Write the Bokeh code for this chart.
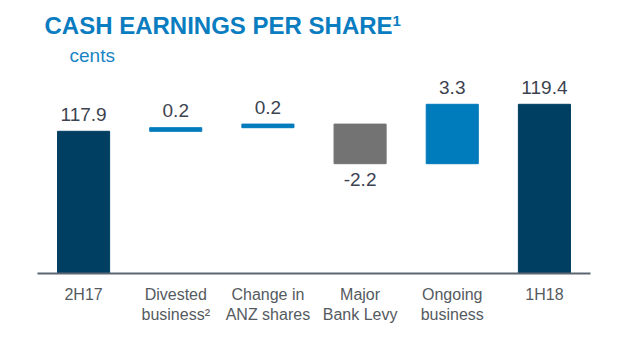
from bokeh.plotting import figure
from bokeh.models import ColumnDataSource, FactorRange, Range1d, Label
from bokeh.embed import file_html
from bokeh.resources import INLINE
from bokeh.core.properties import value

# ---- data ----
categories = ["2H17", "Divested\nbusiness\u00b2", "Change in\nANZ shares",
              "Major\nBank Levy", "Ongoing\nbusiness", "1H18"]
values = [117.9, 0.2, 0.2, -2.2, 3.3, 119.4]
kinds = ["total", "delta", "delta", "delta", "delta", "total"]
axis_floor = 110.0

# ---- waterfall geometry from data ----
bottoms, tops, colors = [], [], []
running = 0.0
for v, k in zip(values, kinds):
    if k == "total":
        b, t = axis_floor, v
        running = v
        c = "#003f62"
    else:
        b, t = running, running + v
        running = t
        c = "#737373" if v < 0 else "#007bbb"
    bottoms.append(min(b, t))
    tops.append(max(b, t))
    colors.append(c)

labels = [f"{v:.1f}" for v in values]
lab_y = [tops[i] if values[i] >= 0 else bottoms[i] for i in range(len(values))]
lab_off = [-17 if values[i] >= 0 else 16 for i in range(len(values))]

src = ColumnDataSource(dict(x=categories, bottom=bottoms, top=tops, color=colors,
                            label=labels, ly=lab_y, loff=lab_off))

FONT = "Liberation Sans"

p = figure(width=622, height=354, x_range=FactorRange(*categories),
           y_range=Range1d(axis_floor, axis_floor + 273 / 18.0),
           output_backend="svg", toolbar_location=None, y_axis_location=None,
           min_border_left=37, min_border_right=32, min_border_top=0,
           min_border_bottom=81)
p.x_range.range_padding = 0
p.outline_line_color = None
p.xgrid.visible = False
p.ygrid.visible = False
p.background_fill_color = "white"
p.border_fill_color = "white"

p.vbar(x="x", bottom="bottom", top="top", width=0.565, color="color", source=src)
p.text(x="x", y="ly", text="label", y_offset="loff", source=src,
       text_align="center", text_baseline="alphabetic",
       text_font=value(FONT), text_font_size="19px", text_color="#3d4350")

ax = p.xaxis[0]
ax.axis_line_color = "#5b6670"
ax.axis_line_width = 2
ax.major_tick_line_color = None
ax.minor_tick_line_color = None
ax.major_label_standoff = 6
ax.major_label_text_font = FONT
ax.major_label_text_font_size = "16px"
ax.major_label_text_color = "#555a60"
ax.major_label_text_line_height = 1.2

title = Label(x=7, y=248, x_units="screen", y_units="screen",
              text="CASH EARNINGS PER SHARE", text_font=FONT,
              text_font_size="24px", text_font_style="bold",
              text_color="#0a7cc0", text_baseline="alphabetic")
sup = Label(x=355, y=253, x_units="screen", y_units="screen",
            text="1", text_font=FONT,
            text_font_size="15px", text_font_style="bold",
            text_color="#0a7cc0", text_baseline="alphabetic")
unit = Label(x=32, y=218, x_units="screen", y_units="screen",
             text="cents", text_font=FONT, text_font_size="19px",
             text_color="#1a84c6", text_baseline="alphabetic")
p.add_layout(title)
p.add_layout(sup)
p.add_layout(unit)

open("out.html", "w").write(file_html(p, INLINE))
